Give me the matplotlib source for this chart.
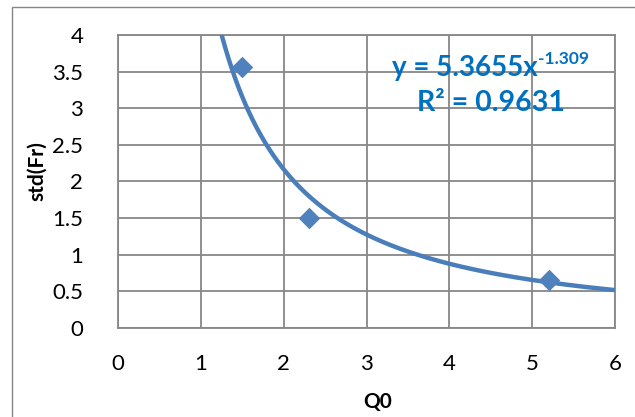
import numpy as np
import matplotlib
matplotlib.use('Agg')
import matplotlib.pyplot as plt
from matplotlib.patches import Rectangle

# data
q0 = [1.5, 2.3, 5.2]
std_fr = [3.56, 1.50, 0.65]

# power trendline as printed on the chart
trend_a = 5.3655
trend_b = -1.309
r_squared = 0.9631

x_ticks = [0, 1, 2, 3, 4, 5, 6]
y_ticks = [0, 0.5, 1, 1.5, 2, 2.5, 3, 3.5, 4]

plt.rcParams['font.family'] = ['Lato', 'DejaVu Sans']

fig = plt.figure(figsize=(6.35, 4.17), dpi=100)
fig.patch.set_facecolor('white')

# outer chart border (Excel style, runs off the right/bottom)
fig.patches.append(Rectangle((12 / 635, -0.05), 1.2, 1 - 7 / 417 + 0.05,
                             transform=fig.transFigure, fill=False,
                             edgecolor='#868686', linewidth=1.0))

ax = fig.add_axes([118 / 635, 1 - 327.7 / 417, (615 - 118) / 635, (327.7 - 35) / 417])
ax.set_xlim(0, 6)
ax.set_ylim(0, 4)
ax.set_xticks(x_ticks)
ax.set_yticks(y_ticks)
ax.set_xticklabels([str(v) for v in x_ticks], fontsize=16)
ax.set_yticklabels([f'{v:g}' for v in y_ticks], fontsize=16)
ax.tick_params(length=0, colors='black')
ax.tick_params(axis='x', pad=19)
ax.tick_params(axis='y', pad=25)
ax.grid(True, color='#878787', linewidth=1.3)
ax.set_axisbelow(True)
for s in ax.spines.values():
    s.set_color('#878787')
    s.set_linewidth(1.3)

# trendline
xs = np.linspace(0.8, 6, 400)
ax.plot(xs, trend_a * xs ** trend_b, color='#4A7EBB', linewidth=3.2,
        solid_capstyle='butt', zorder=3, clip_on=True)

# points
ax.scatter(q0, std_fr, marker='D', s=120, color='#4F81BD', zorder=4,
           linewidths=0, clip_on=False)

ax.set_xlabel('Q0', fontsize=15, fontweight='bold', va='top')
ax.set_ylabel('std(Fr)', fontsize=15, fontweight='bold')
ax.xaxis.set_label_coords(0.523, -0.218)
ax.yaxis.set_label_coords(-0.143, 0.535)

# trendline equation
fig.text(538 / 635, 1 - 76 / 417, 'y = 5.3655x', ha='right', va='baseline',
         fontsize=20, fontweight='bold', color='#0070C0')
fig.text(538 / 635, 1 - 51 / 417, '-1.309', ha='left', va='top',
         fontsize=12.5, fontweight='bold', color='#0070C0')
fig.text(491 / 635, 1 - 103 / 417, f'R\u00b2 = {r_squared}', ha='center', va='center',
         fontsize=20.5, fontweight='bold', color='#0070C0')

fig.savefig('out.png', dpi=100, facecolor='white')
